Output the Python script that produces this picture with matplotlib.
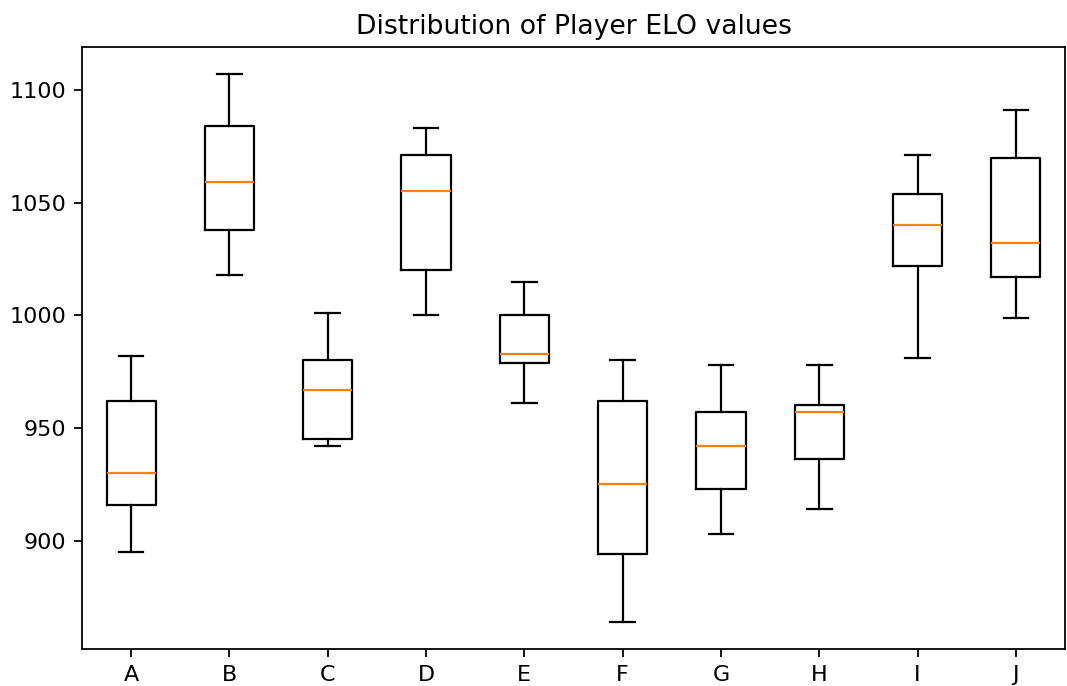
import matplotlib
matplotlib.use("Agg")
import matplotlib.pyplot as plt

# player groups and box statistics
players = ["A", "B", "C", "D", "E", "F", "G", "H", "I", "J"]
whisker_low = [895, 1018, 942, 1000, 961, 864, 903, 914, 981, 999]
q1 = [916, 1038, 945, 1020, 979, 894, 923, 936, 1022, 1017]
medians = [930, 1059, 967, 1055, 983, 925, 942, 957, 1040, 1032]
q3 = [962, 1084, 980, 1071, 1000, 962, 957, 960, 1054, 1070]
whisker_high = [982, 1107, 1001, 1083, 1015, 980, 978, 978, 1071, 1091]

stats = []
for i in range(len(players)):
    stats.append({"label": players[i], "whislo": whisker_low[i], "q1": q1[i],
                  "med": medians[i], "q3": q3[i], "whishi": whisker_high[i], "fliers": []})

dpi = 160
fig = plt.figure(figsize=(1067 / dpi, 686 / dpi), dpi=dpi)
ax = fig.add_axes([82 / 1067, 1 - 649 / 686, (1065 - 82) / 1067, (649 - 47) / 686])
ax.bxp(stats)
ax.set_title("Distribution of Player ELO values")

fig.savefig("out.png", dpi=dpi)
